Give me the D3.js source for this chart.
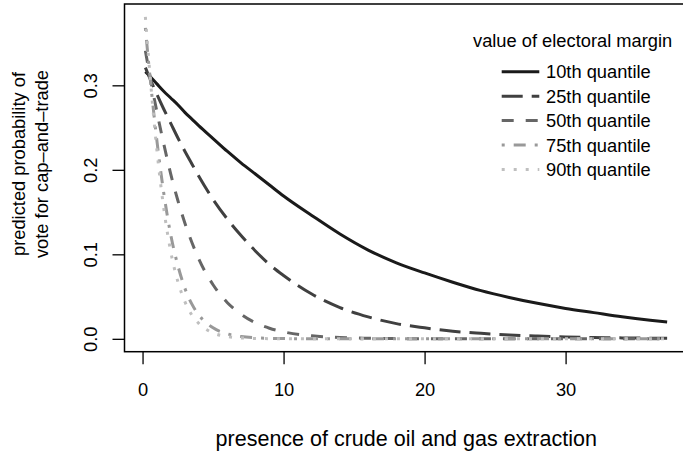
<!DOCTYPE html>
<html>
<head>
<meta charset="utf-8">
<script src="https://cdn.jsdelivr.net/npm/d3@7"></script>
<style>
  body { margin: 0; background: #fff; }
  svg { display: block; font-family: 'Liberation Sans', Arial, Helvetica, sans-serif; }
</style>
</head>
<body>
<svg id="chart" width="683" height="453"></svg>
<script>
'use strict';

const extraction = [0.2, 0.5, 1, 1.5, 2, 2.5, 3, 3.5, 4, 5, 6, 7, 8, 9, 10,
  12, 14, 16, 18, 20, 22, 24, 26, 28, 30, 32, 34, 36, 37.2];

const q10 = [0.316, 0.311, 0.302, 0.293, 0.285, 0.277, 0.268, 0.26, 0.252, 0.237,
  0.222, 0.208, 0.195, 0.182, 0.169, 0.146, 0.124, 0.105, 0.09, 0.078, 0.067,
  0.057, 0.049, 0.042, 0.036, 0.031, 0.026, 0.022, 0.02];
const q25 = [0.321, 0.309, 0.29, 0.272, 0.255, 0.238, 0.222, 0.207, 0.192, 0.165,
  0.142, 0.122, 0.104, 0.088, 0.075, 0.053, 0.037, 0.026, 0.018, 0.013, 0.009,
  0.0065, 0.0045, 0.0032, 0.0022, 0.0015, 0.0011, 0.0008, 0.0006];
const q50 = [0.341, 0.313, 0.27, 0.231, 0.195, 0.164, 0.137, 0.114, 0.094, 0.064,
  0.043, 0.029, 0.019, 0.0125, 0.0082, 0.0036, 0.0015, 0.0007, 0.0003, 0.0001, 0,
  0, 0, 0, 0, 0, 0, 0, 0];
const q75 = [0.368, 0.315, 0.237, 0.173, 0.123, 0.087, 0.06, 0.041, 0.028, 0.013,
  0.006, 0.0027, 0.0012, 0.0006, 0.0003, 0.0001, 0, 0, 0, 0, 0,
  0, 0, 0, 0, 0, 0, 0, 0];
const q90 = [0.381, 0.318, 0.226, 0.155, 0.103, 0.068, 0.044, 0.028, 0.018, 0.007,
  0.0028, 0.0011, 0.0004, 0.0002, 0.0001, 0, 0, 0, 0, 0, 0,
  0, 0, 0, 0, 0, 0, 0, 0];

const quantileNames = ['10th quantile', '25th quantile', '50th quantile',
  '75th quantile', '90th quantile'];
const xTicks = [0, 10, 20, 30];
const yTicks = [0, 0.1, 0.2, 0.3];

const series = [q10, q25, q50, q75, q90];

// grey levels and R line types (solid, longdash, dashed, dotdash, dotted) at lwd 3
const lineStyles = [
  { color: '#1a1a1a', dash: null },
  { color: '#404040', dash: '21,9' },
  { color: '#666666', dash: '12,12' },
  { color: '#999999', dash: '3,9,12,9' },
  { color: '#bfbfbf', dash: '3,9' },
];

const box = { left: 124.5, top: 4, right: 688, bottom: 351.7 };
const fontSize = 18.3;

// R extends the data range by 4% on each side
function padded(values) {
  const [lo, hi] = d3.extent(values);
  const pad = (hi - lo) * 0.04;
  return [lo - pad, hi + pad];
}

const x = d3.scaleLinear()
  .domain(padded(extraction))
  .range([box.left, box.right]);

const y = d3.scaleLinear()
  .domain(padded(series.flat()))
  .range([box.bottom, box.top]);

const svg = d3.select('#chart');

const line = d3.line()
  .x((d, i) => x(extraction[i]))
  .y(d => y(d))
  .curve(d3.curveMonotoneX);

const plot = svg.append('g').attr('class', 'plot');

plot.append('defs')
  .append('clipPath')
  .attr('id', 'clip')
  .append('rect')
  .attr('x', box.left)
  .attr('y', box.top)
  .attr('width', box.right - box.left)
  .attr('height', box.bottom - box.top);

plot.append('g')
  .attr('clip-path', 'url(#clip)')
  .selectAll('path')
  .data(series)
  .enter()
  .append('path')
  .attr('d', line)
  .attr('fill', 'none')
  .attr('stroke', (d, i) => lineStyles[i].color)
  .attr('stroke-width', 3)
  .attr('stroke-dasharray', (d, i) => lineStyles[i].dash);

// axes
const xAxis = svg.append('g')
  .attr('transform', `translate(0, ${box.bottom})`)
  .call(d3.axisBottom(x).tickValues(xTicks).tickSize(12.5).tickSizeOuter(0));

const yAxis = svg.append('g')
  .attr('transform', `translate(${box.left}, 0)`)
  .call(d3.axisLeft(y).tickValues(yTicks).tickFormat(d3.format('.1f')).tickSize(12).tickSizeOuter(0));

[xAxis, yAxis].forEach(axis => {
  axis.select('.domain').remove();
  axis.selectAll('.tick line').attr('stroke', '#000').attr('stroke-width', 1.3);
  axis.selectAll('.tick text')
    .attr('fill', '#000')
    .style('font-size', `${fontSize}px`)
    .style('font-family', null);
});

xAxis.selectAll('.tick text')
  .attr('y', 44.5)
  .attr('dy', null);

yAxis.selectAll('.tick text')
  .attr('x', null)
  .attr('dy', null)
  .attr('text-anchor', 'middle')
  .attr('transform', 'translate(-27.8, 0) rotate(-90)');

svg.append('rect')
  .attr('x', box.left)
  .attr('y', box.top)
  .attr('width', box.right - box.left)
  .attr('height', box.bottom - box.top)
  .attr('fill', 'none')
  .attr('stroke', '#000')
  .attr('stroke-width', 1.5);

// axis titles
svg.append('text')
  .attr('x', (box.left + box.right) / 2)
  .attr('y', 446)
  .attr('text-anchor', 'middle')
  .style('font-size', '21.5px')
  .text('presence of crude oil and gas extraction');

const yTitle = svg.append('text')
  .attr('transform', 'translate(25, 164) rotate(-90)')
  .attr('text-anchor', 'middle')
  .style('font-size', `${fontSize}px`);

yTitle.append('tspan').attr('x', 0).attr('y', 0).text('predicted probability of');
yTitle.append('tspan').attr('x', 0).attr('y', 22.5).text('vote for cap\u2013and\u2013trade');

// legend
const legend = svg.append('g').attr('class', 'legend');

legend.append('text')
  .attr('x', 473)
  .attr('y', 47)
  .style('font-size', `${fontSize}px`)
  .text('value of electoral margin');

const rows = legend.selectAll('.row')
  .data(quantileNames)
  .enter()
  .append('g')
  .attr('class', 'row')
  .attr('transform', (d, i) => `translate(0, ${78.3 + i * 24.4})`);

rows.append('line')
  .attr('x1', 501.7)
  .attr('x2', 539.3)
  .attr('y1', -6.5)
  .attr('y2', -6.5)
  .attr('stroke', (d, i) => lineStyles[i].color)
  .attr('stroke-width', 3)
  .attr('stroke-dasharray', (d, i) => lineStyles[i].dash);

rows.append('text')
  .attr('x', 546)
  .style('font-size', `${fontSize}px`)
  .text(d => d);
</script>
</body>
</html>
